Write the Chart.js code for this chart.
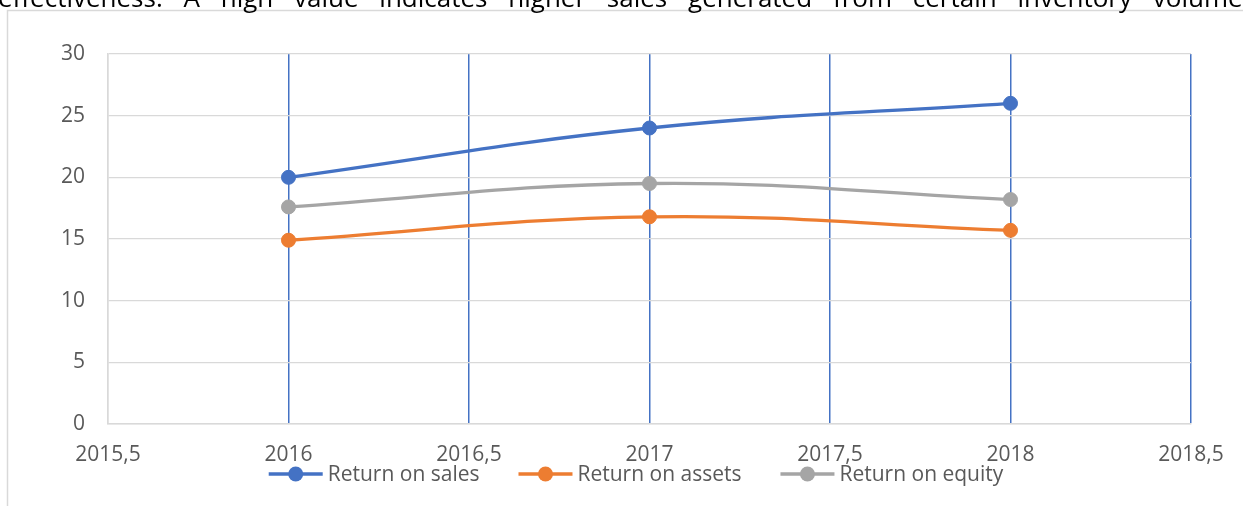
<!DOCTYPE html>
<html><head><meta charset="utf-8">
<script src="https://cdn.jsdelivr.net/npm/chart.js@4/dist/chart.umd.min.js"></script>
<style>
html,body{margin:0;padding:0;background:#fff;overflow:hidden;}
#wrap{position:relative;width:1243px;height:506px;overflow:hidden;}
#intro{position:absolute;left:-2px;top:-15px;font-family:"Open Sans";font-size:26px;line-height:24px;color:#000;white-space:nowrap;z-index:2;}
canvas{position:absolute;left:0;top:0;z-index:1;}
</style></head>
<body>
<div id="wrap">
<canvas id="c" width="1243" height="506"></canvas>
<div id="intro">effectiveness. A high value indicates higher sales generated from certain inventory volumes</div>
</div>
<script>
const years = [2016, 2017, 2018];
const seriesNames = ['Return on sales', 'Return on assets', 'Return on equity'];
const returnOnSales = [20, 24, 26];
const returnOnAssets = [14.9, 16.8, 15.7];
const returnOnEquity = [17.6, 19.5, 18.2];
const seriesColors = ['#4472C4', '#ED7D31', '#A5A5A5'];
const xMin = 2015.5, xMax = 2018.5, xStep = 0.5;
const yMin = 0, yMax = 30, yStep = 5;

// stretch the cropped, justified body-text line like the source paragraph
(function () {
  const el = document.getElementById('intro');
  const spaces = (el.textContent.match(/ /g) || []).length;
  const natural = el.getBoundingClientRect().width;
  el.style.wordSpacing = ((1257 - natural) / spaces) + 'px';
})();

const seriesValues = [returnOnSales, returnOnAssets, returnOnEquity];
const datasets = seriesNames.map((name, i) => ({
  label: name,
  data: years.map((x, j) => ({x: x, y: seriesValues[i][j]})),
  borderColor: seriesColors[i],
  backgroundColor: seriesColors[i],
  pointBackgroundColor: seriesColors[i],
  pointBorderColor: seriesColors[i],
  borderWidth: 3.3,
  pointRadius: 7,
  pointBorderWidth: 1,
  tension: 0.4,
  showLine: true,
  fill: false
}));

const frame = {
  id: 'frame',
  beforeDraw(c) {
    const g = c.ctx; g.save();
    g.fillStyle = '#fff'; g.fillRect(0, 0, c.width, c.height);
    g.strokeStyle = '#d9d9d9'; g.lineWidth = 1.5;
    g.strokeRect(7.5, 10.5, 1400, 600);
    g.restore();
  }
};

const xlLegend = {
  id: 'xlLegend',
  afterDraw(c) {
    const g = c.ctx; const ds = c.data.datasets;
    g.save();
    g.font = '21px "Open Sans"';
    const lineW = 54, gapT = 5, gapItem = 39;
    const widths = ds.map(d => lineW + gapT + g.measureText(d.label).width);
    const total = widths.reduce((a, b) => a + b, 0) + gapItem * (ds.length - 1);
    let x = 636 - total / 2; const y = 474;
    ds.forEach((d, i) => {
      g.strokeStyle = d.borderColor; g.lineWidth = 3.3;
      g.beginPath(); g.moveTo(x, y); g.lineTo(x + lineW, y); g.stroke();
      g.fillStyle = d.backgroundColor;
      g.beginPath(); g.arc(x + lineW / 2, y, 7.5, 0, Math.PI * 2); g.fill();
      g.fillStyle = '#595959'; g.textBaseline = 'middle'; g.textAlign = 'left';
      g.fillText(d.label, x + lineW + gapT, y + 1);
      x += widths[i] + gapItem;
    });
    g.restore();
  }
};

new Chart(document.getElementById('c'), {
  type: 'scatter',
  data: {datasets: datasets},
  plugins: [frame, xlLegend],
  options: {
    responsive: false,
    animation: false,
    layout: {padding: {left: 0, top: 54, right: 52, bottom: 0}},
    plugins: {legend: {display: false}, tooltip: {enabled: false}},
    scales: {
      x: {
        type: 'linear', min: xMin, max: xMax,
        ticks: {
          stepSize: xStep, color: '#595959', font: {family: 'Open Sans', size: 21},
          padding: 18, maxRotation: 0, autoSkip: false,
          callback: v => String(v).replace('.', ',')
        },
        grid: {color: ctx => ctx.index === 0 ? '#d9d9d9' : '#4472C4', lineWidth: 1.5, drawTicks: false},
        border: {display: true, color: '#d9d9d9', width: 1.5},
        afterFit: s => { s.height = 82; }
      },
      y: {
        min: yMin, max: yMax,
        ticks: {stepSize: yStep, color: '#595959', font: {family: 'Open Sans', size: 21}, padding: 23},
        grid: {color: '#d9d9d9', lineWidth: 1.3, drawTicks: false},
        border: {display: true, color: '#d9d9d9', width: 1.5},
        afterFit: s => { s.width = 108; }
      }
    }
  }
});
</script>
</body></html>
